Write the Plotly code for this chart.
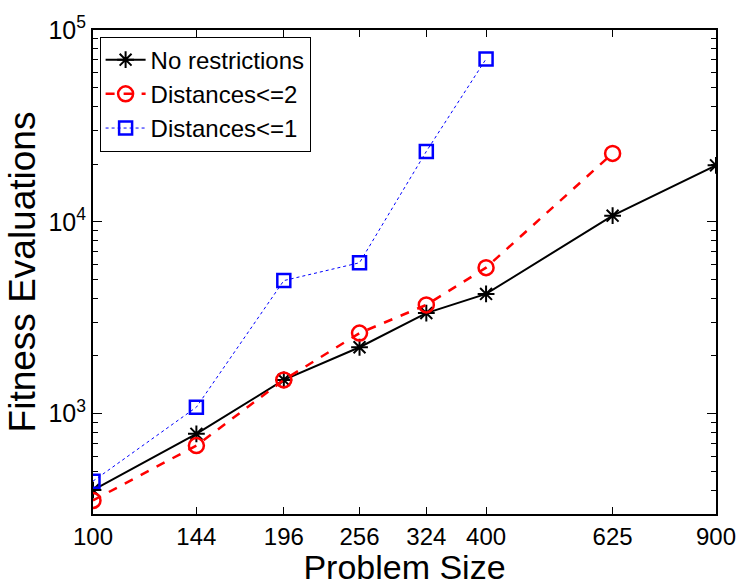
import plotly.graph_objects as go
import math

problem_size = [100, 144, 196, 256, 324, 400, 625, 900]
no_restrictions = [400, 785, 1500, 2220, 3345, 4210, 10770, 19700]
dist_le_2 = [353, 682, 1500, 2630, 3690, 5770, 22740]
dist_le_1 = [445, 1081, 4940, 6120, 23280, 70660]

y_major = [1e3, 1e4, 1e5]
y_major_text = ["10<sup>3</sup>", "10<sup>4</sup>", "10<sup>5</sup>"]
y_minor = [k * 10**e for e in (2, 3, 4) for k in range(2, 10) if 300 <= k * 10**e <= 1e5]

FONT = "Liberation Sans, Arial, Helvetica, sans-serif"

fig = go.Figure()
fig.add_trace(go.Scatter(
    x=problem_size, y=no_restrictions, name="No restrictions",
    mode="lines+markers",
    line=dict(color="black", width=2, dash="solid"),
    marker=dict(symbol="asterisk-open", size=14, color="black",
                line=dict(color="black", width=2)),
))
fig.add_trace(go.Scatter(
    x=problem_size[:len(dist_le_2)], y=dist_le_2, name="Distances<=2",
    mode="lines+markers",
    line=dict(color="#ff0000", width=2.5, dash="dash"),
    marker=dict(symbol="circle-open", size=15, color="#ff0000",
                line=dict(color="#ff0000", width=2.5)),
))
fig.add_trace(go.Scatter(
    x=problem_size[:len(dist_le_1)], y=dist_le_1, name="Distances<=1",
    mode="lines+markers",
    line=dict(color="#0000ff", width=1, dash="dot"),
    marker=dict(symbol="square-open", size=13, color="#0000ff",
                line=dict(color="#0000ff", width=2.5)),
))

fig.update_layout(
    width=748, height=586,
    margin=dict(l=93, r=24, t=26, b=63),
    paper_bgcolor="white", plot_bgcolor="white",
    font=dict(family=FONT, color="black", size=24),
    showlegend=True,
    legend=dict(
        x=0.0106, y=0.9865, xanchor="left", yanchor="top",
        bgcolor="white", bordercolor="black", borderwidth=1,
        font=dict(family=FONT, size=24, color="black"),
        itemwidth=40, tracegroupgap=0,
    ),
    xaxis=dict(
        type="log", range=[math.log10(100), math.log10(900)],
        tickmode="array", tickvals=problem_size,
        ticktext=[str(v) for v in problem_size],
        ticks="inside", ticklen=7, tickwidth=1, tickcolor="black",
        showline=True, linecolor="black", linewidth=2, mirror="ticks",
        showgrid=False, zeroline=False,
        tickfont=dict(size=24),
        title=dict(text="Problem Size", font=dict(size=34), standoff=0),
    ),
    yaxis=dict(
        type="log", range=[math.log10(300), 5.0],
        tickmode="array", tickvals=y_major, ticktext=y_major_text,
        ticks="inside", ticklen=9, tickwidth=1, tickcolor="black",
        minor=dict(tickmode="array", tickvals=y_minor, ticks="inside",
                   ticklen=5, tickwidth=1, tickcolor="black", showgrid=False),
        showline=True, linecolor="black", linewidth=2, mirror="ticks",
        showgrid=False, zeroline=False,
        tickfont=dict(size=25),
        title=dict(text="Fitness Evaluations", font=dict(size=37), standoff=2),
    ),
)

fig.write_html("out.html")
